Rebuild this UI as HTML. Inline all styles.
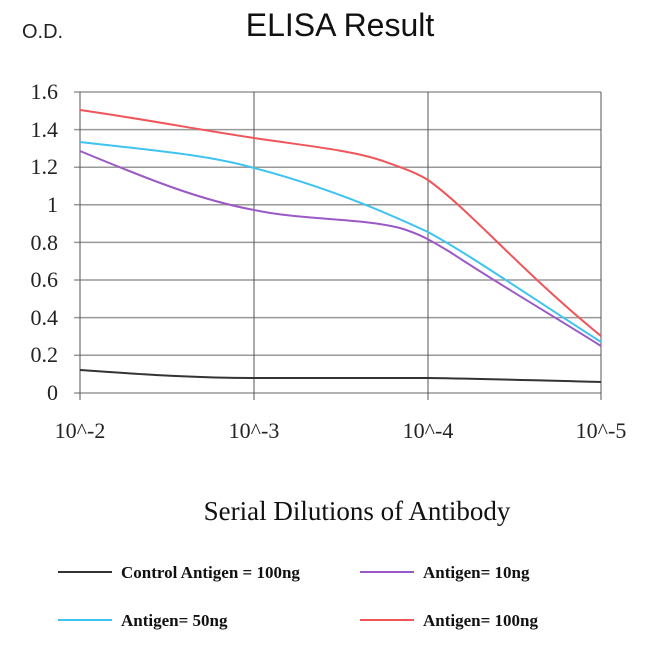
<!DOCTYPE html>
<html><head><style>body{margin:0;background:#fff}</style></head><body>
<svg width="650" height="650" xmlns="http://www.w3.org/2000/svg" font-family="'Liberation Serif',serif">
<text x="22" y="38" font-family="'Liberation Sans',sans-serif" font-size="20" fill="#222">O.D.</text>
<text x="340" y="36" text-anchor="middle" font-family="'Liberation Sans',sans-serif" font-size="32" fill="#111">ELISA Result</text>
<g stroke="#999" stroke-width="1.5">
<line x1="74" y1="92" x2="601" y2="92"/><line x1="74" y1="129.6" x2="601" y2="129.6"/><line x1="74" y1="167.2" x2="601" y2="167.2"/><line x1="74" y1="204.8" x2="601" y2="204.8"/><line x1="74" y1="242.4" x2="601" y2="242.4"/><line x1="74" y1="280" x2="601" y2="280"/><line x1="74" y1="317.6" x2="601" y2="317.6"/><line x1="74" y1="355.2" x2="601" y2="355.2"/><line x1="74" y1="393" x2="601" y2="393"/>
</g>
<g stroke="#555" stroke-width="1">
<line x1="80" y1="92" x2="80" y2="400"/><line x1="254" y1="92" x2="254" y2="400"/><line x1="428" y1="92" x2="428" y2="400"/><line x1="601" y1="92" x2="601" y2="400"/>
</g>
<g font-size="22" fill="#222" text-anchor="end">
<text x="58" y="99">1.6</text><text x="58" y="137">1.4</text><text x="58" y="174">1.2</text><text x="58" y="212">1</text><text x="58" y="250">0.8</text><text x="58" y="287">0.6</text><text x="58" y="325">0.4</text><text x="58" y="362">0.2</text><text x="58" y="400">0</text>
</g>
<g font-size="22" fill="#222" text-anchor="middle">
<text x="80" y="438">10^-2</text><text x="254" y="438">10^-3</text><text x="428" y="438">10^-4</text><text x="601" y="438">10^-5</text>
</g>
<g fill="none" stroke-width="2">
<path d="M80,370 C150,375 200,378 254,378 C320,378 380,378 428,378 C500,379 560,381 601,382" stroke="#333"/>
<path d="M80,151 C150,180 200,200 254,210 C300,220 360,218 400,228 C420,234 430,240 450,252 C500,285 560,320 601,346" stroke="#9b59c6"/>
<path d="M80,142 C150,150 210,155 254,168 C300,180 360,200 428,232 C470,255 520,290 601,342" stroke="#3fc3f0"/>
<path d="M80,110 C150,120 200,130 254,138 C300,145 350,150 380,160 C400,167 415,172 428,180 C470,210 520,270 601,336" stroke="#f0555a"/>
</g>
<text x="357" y="520" text-anchor="middle" font-size="27" fill="#111">Serial Dilutions of Antibody</text>
<g font-size="17" fill="#111" font-weight="bold">
<line x1="58" y1="572" x2="112" y2="572" stroke="#333" stroke-width="2"/><text x="121" y="578">Control Antigen = 100ng</text>
<line x1="360" y1="572" x2="414" y2="572" stroke="#9b59c6" stroke-width="2"/><text x="423" y="578">Antigen= 10ng</text>
<line x1="58" y1="620" x2="112" y2="620" stroke="#3fc3f0" stroke-width="2"/><text x="121" y="626">Antigen= 50ng</text>
<line x1="360" y1="620" x2="414" y2="620" stroke="#f0555a" stroke-width="2"/><text x="423" y="626">Antigen= 100ng</text>
</g>
</svg>
</body></html>
